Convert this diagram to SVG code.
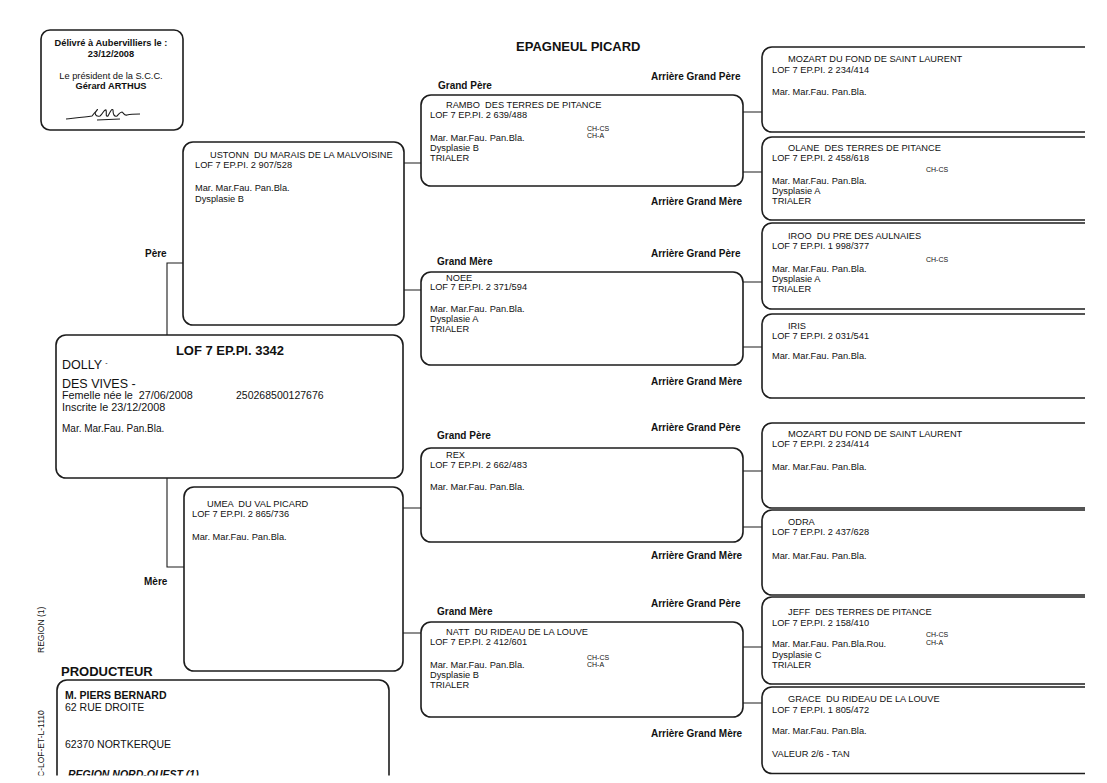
<svg xmlns="http://www.w3.org/2000/svg" width="1107" height="783" viewBox="0 0 1107 783">
<defs>
<style>
.box{fill:none;stroke:#1c1c1c;stroke-width:1.6}
.ln{fill:none;stroke:#1c1c1c;stroke-width:1.1}
text{font-family:"Liberation Sans",Arial,Helvetica,sans-serif;fill:#111;font-size:9.25px;white-space:pre}
.b{font-weight:bold}
.lbl{font-size:10px;font-weight:bold}
.ch{font-size:7px}
.big{font-size:12.5px}
.mid{font-size:10.5px}
</style>
<clipPath id="page"><rect x="0" y="0" width="1085" height="775.5"/></clipPath>
</defs>
<rect x="0" y="0" width="1107" height="783" fill="#ffffff"/>
<g clip-path="url(#page)">

<g id="certificate">
<rect class="box" x="41" y="30" width="142" height="100" rx="9"/>
<text class="b" x="111" y="46" text-anchor="middle">Délivré à Aubervilliers le :</text>
<text class="b" x="111" y="56.5" text-anchor="middle">23/12/2008</text>
<text x="111" y="78.5" text-anchor="middle">Le président de la S.C.C.</text>
<text class="b" x="111" y="88.5" text-anchor="middle">Gérard ARTHUS</text>
<path class="ln" d="M66,119 C75,118 85,117 92,116 C95,112 99,108 97,110 C94,113 95,117 100,116 C103,114 104,109 106,110 C107,113 105,117 108,116 C110,112 112,108 113,110 C113,114 114,117 117,116 C119,114 120,112 122,112 C124,113 124,116 127,115 C131,114 136,114 140,114 M97,120 L120,119"/>
</g>

<text class="b" x="516" y="51" style="font-size:13px">EPAGNEUL PICARD</text>

<g id="labels">
<text class="lbl" x="438" y="88.5">Grand Père</text>
<text class="lbl" x="437" y="264.5">Grand Mère</text>
<text class="lbl" x="437" y="438.5">Grand Père</text>
<text class="lbl" x="437" y="615">Grand Mère</text>
<text class="lbl" x="651" y="80">Arrière Grand Père</text>
<text class="lbl" x="651" y="256.5">Arrière Grand Père</text>
<text class="lbl" x="651" y="431">Arrière Grand Père</text>
<text class="lbl" x="651" y="607">Arrière Grand Père</text>
<text class="lbl" x="651" y="205">Arrière Grand Mère</text>
<text class="lbl" x="651" y="384.5">Arrière Grand Mère</text>
<text class="lbl" x="651" y="558.5">Arrière Grand Mère</text>
<text class="lbl" x="651" y="737">Arrière Grand Mère</text>
<text class="lbl" x="145" y="257">Père</text>
<text class="lbl" x="144" y="585">Mère</text>
</g>

<g id="connectors">
<path class="ln" d="M167,335 V263 H183"/>
<path class="ln" d="M167,478 V567 H184"/>
<path class="ln" d="M404,163 H421 M404,290 H421"/>
<path class="ln" d="M403,508 H421 M403,633 H421"/>
<path class="ln" d="M743,112 H762 M743,172 H762"/>
<path class="ln" d="M743,282 H762 M743,347 H762"/>
<path class="ln" d="M743,471 H762 M743,527 H762"/>
<path class="ln" d="M743,647 H762 M743,703 H762"/>
</g>

<g id="dolly">
<rect class="box" x="56" y="335" width="347" height="143" rx="10"/>
<text class="b" x="230" y="355" text-anchor="middle" style="font-size:13px">LOF 7 EP.PI. 3342</text>
<text class="big" x="62" y="369">DOLLY <tspan style="font-size:7px" dy="-4">-</tspan></text>
<text class="big" x="62" y="387.5">DES VIVES -</text>
<text class="mid" x="62" y="399" style="font-size:10.8px">Femelle née le  27/06/2008</text>
<text class="mid" x="236" y="399">250268500127676</text>
<text class="mid" x="62" y="411" style="font-size:10.8px">Inscrite le 23/12/2008</text>
<text x="62" y="432" style="font-size:10px">Mar. Mar.Fau. Pan.Bla.</text>
</g>

<g id="sire">
<rect class="box" x="183" y="142" width="221" height="183" rx="10"/>
<text x="210" y="158">USTONN  DU MARAIS DE LA MALVOISINE</text>
<text x="195" y="168">LOF 7 EP.PI. 2 907/528</text>
<text x="195" y="191">Mar. Mar.Fau. Pan.Bla.</text>
<text x="195" y="201.5">Dysplasie B</text>
</g>

<g id="dam">
<rect class="box" x="184" y="487" width="219" height="184" rx="10"/>
<text x="207" y="507">UMEA  DU VAL PICARD</text>
<text x="192" y="517">LOF 7 EP.PI. 2 865/736</text>
<text x="192" y="539.5">Mar. Mar.Fau. Pan.Bla.</text>
</g>

<g id="gp-rambo">
<rect class="box" x="421" y="95" width="322" height="91" rx="10"/>
<text x="446" y="108">RAMBO  DES TERRES DE PITANCE</text>
<text x="430" y="118">LOF 7 EP.PI. 2 639/488</text>
<text class="ch" x="587" y="131">CH-CS</text>
<text class="ch" x="587" y="138">CH-A</text>
<text x="430" y="140.5">Mar. Mar.Fau. Pan.Bla.</text>
<text x="430" y="150.5">Dysplasie B</text>
<text x="430" y="160.5">TRIALER</text>
</g>

<g id="gm-noee">
<rect class="box" x="421" y="272" width="322" height="93" rx="10"/>
<text x="446" y="280.5">NOEE</text>
<text x="430" y="289.5">LOF 7 EP.PI. 2 371/594</text>
<text x="430" y="312">Mar. Mar.Fau. Pan.Bla.</text>
<text x="430" y="322">Dysplasie A</text>
<text x="430" y="332">TRIALER</text>
</g>

<g id="gp-rex">
<rect class="box" x="421" y="448" width="322" height="94" rx="10"/>
<text x="446" y="458">REX</text>
<text x="430" y="468">LOF 7 EP.PI. 2 662/483</text>
<text x="430" y="490">Mar. Mar.Fau. Pan.Bla.</text>
</g>

<g id="gm-natt">
<rect class="box" x="421" y="622" width="322" height="95" rx="10"/>
<text x="446" y="634.5">NATT  DU RIDEAU DE LA LOUVE</text>
<text x="430" y="645">LOF 7 EP.PI. 2 412/601</text>
<text class="ch" x="587" y="659.5">CH-CS</text>
<text class="ch" x="587" y="666.5">CH-A</text>
<text x="430" y="668">Mar. Mar.Fau. Pan.Bla.</text>
<text x="430" y="678">Dysplasie B</text>
<text x="430" y="688">TRIALER</text>
</g>

<g id="agp-mozart-1">
<rect class="box" x="762" y="47" width="400" height="85" rx="10"/>
<text x="788" y="62">MOZART DU FOND DE SAINT LAURENT</text>
<text x="772" y="72.5">LOF 7 EP.PI. 2 234/414</text>
<text x="772" y="94.5">Mar. Mar.Fau. Pan.Bla.</text>
</g>

<g id="agm-olane">
<rect class="box" x="762" y="137" width="400" height="83" rx="10"/>
<text x="788" y="150.5">OLANE  DES TERRES DE PITANCE</text>
<text x="772" y="160.5">LOF 7 EP.PI. 2 458/618</text>
<text class="ch" x="926" y="172">CH-CS</text>
<text x="772" y="184">Mar. Mar.Fau. Pan.Bla.</text>
<text x="772" y="194">Dysplasie A</text>
<text x="772" y="204">TRIALER</text>
</g>

<g id="agp-iroo">
<rect class="box" x="762" y="223" width="400" height="86" rx="10"/>
<text x="788" y="238.5">IROO  DU PRE DES AULNAIES</text>
<text x="772" y="249">LOF 7 EP.PI. 1 998/377</text>
<text class="ch" x="926" y="261.5">CH-CS</text>
<text x="772" y="271.5">Mar. Mar.Fau. Pan.Bla.</text>
<text x="772" y="281.5">Dysplasie A</text>
<text x="772" y="292">TRIALER</text>
</g>

<g id="agm-iris">
<rect class="box" x="762" y="314" width="400" height="84" rx="10"/>
<text x="788" y="328.5">IRIS</text>
<text x="772" y="339">LOF 7 EP.PI. 2 031/541</text>
<text x="772" y="359">Mar. Mar.Fau. Pan.Bla.</text>
</g>

<g id="agp-mozart-2">
<rect class="box" x="762" y="423" width="400" height="85" rx="10"/>
<text x="788" y="437">MOZART DU FOND DE SAINT LAURENT</text>
<text x="772" y="447">LOF 7 EP.PI. 2 234/414</text>
<text x="772" y="469.5">Mar. Mar.Fau. Pan.Bla.</text>
</g>

<g id="agm-odra">
<rect class="box" x="762" y="510" width="400" height="85" rx="10"/>
<text x="788" y="525">ODRA</text>
<text x="772" y="535">LOF 7 EP.PI. 2 437/628</text>
<text x="772" y="558.5">Mar. Mar.Fau. Pan.Bla.</text>
</g>

<g id="agp-jeff">
<rect class="box" x="762" y="597" width="400" height="87" rx="10"/>
<text x="788" y="615">JEFF  DES TERRES DE PITANCE</text>
<text x="772" y="626">LOF 7 EP.PI. 2 158/410</text>
<text class="ch" x="926" y="637">CH-CS</text>
<text class="ch" x="926" y="644.5">CH-A</text>
<text x="772" y="647">Mar. Mar.Fau. Pan.Bla.Rou.</text>
<text x="772" y="657.5">Dysplasie C</text>
<text x="772" y="668">TRIALER</text>
</g>

<g id="agm-grace">
<rect class="box" x="762" y="687" width="400" height="86.5" rx="10"/>
<text x="788" y="702">GRACE  DU RIDEAU DE LA LOUVE</text>
<text x="772" y="712.5">LOF 7 EP.PI. 1 805/472</text>
<text x="772" y="734">Mar. Mar.Fau. Pan.Bla.</text>
<text x="772" y="757">VALEUR 2/6 - TAN</text>
</g>

<g id="producer">
<text class="b" x="61" y="676" style="font-size:13px">PRODUCTEUR</text>
<rect class="box" x="57" y="680" width="332" height="200" rx="10"/>
<text class="b mid" x="65" y="699">M. PIERS BERNARD</text>
<text class="mid" x="65" y="711">62 RUE DROITE</text>
<text class="mid" x="65" y="748">62370 NORTKERQUE</text>
<text class="b mid" x="68" y="778" font-style="italic">REGION NORD-OUEST (1)</text>
</g>

<g id="margin">
<text transform="translate(44,653) rotate(-90)" style="font-size:8.5px">REGION (1)</text>
<text transform="translate(44,777) rotate(-90)" style="font-size:8.5px">C-LOF-ET-L-1110</text>
</g>

</g>
</svg>
